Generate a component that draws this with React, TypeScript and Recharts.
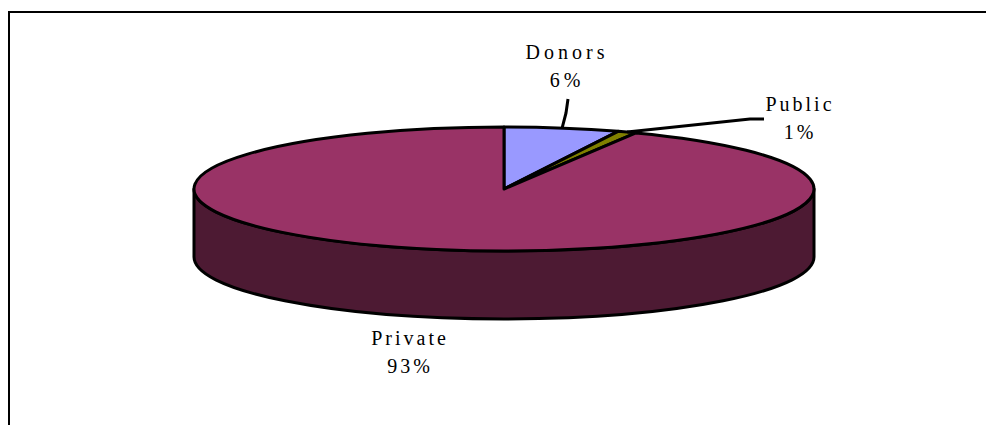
import { PieChart, Pie } from "recharts"

const sliceNames = ["Donors", "Public", "Private"]
const sliceValues = [6, 1, 93]
const sliceColors = ["#9999ff", "#808000", "#993366"]
const wallColor = "#4d1a33"

const data = sliceNames.map((name, i) => ({ name, value: sliceValues[i], fill: sliceColors[i] }))

const TILT = 0.2
const DEPTH = 68
const OUTLINE = 3
const RAD = Math.PI / 180

// where each two-line label sits, and the bend points of its leader
const labelLayout = [
  { x: 567, y: 59, spacing: 4, leader: [[566, 113], [568, 99]] },
  { x: 800, y: 111, spacing: 3, leader: [[750, 119], [764, 119]] },
  { x: 410, y: 345, spacing: 3, leader: [] as number[][] },
]

// squashes a point on the pie's circle into the tilted ellipse
function onRim(cx: number, cy: number, r: number, angle: number) {
  return {
    x: cx + r * Math.cos(angle * RAD),
    y: cy - r * TILT * Math.sin(angle * RAD),
  }
}

function TiltedSlice(props: any) {
  const { cx, cy, outerRadius: r, startAngle, endAngle, fill } = props
  const ry = r * TILT
  const a = onRim(cx, cy, r, startAngle)
  const b = onRim(cx, cy, r, endAngle)
  const large = Math.abs(startAngle - endAngle) > 180 ? 1 : 0
  const top = `M${cx},${cy} L${a.x},${a.y} A${r},${ry} 0 ${large} 1 ${b.x},${b.y} Z`
  // only a slice running across the front of the pie shows a side wall
  const hasWall = startAngle >= 0 && endAngle <= -180
  return (
    <g>
      {hasWall && (
        <path
          d={`M${cx - r},${cy} L${cx - r},${cy + DEPTH} A${r},${ry} 0 0 0 ${cx + r},${cy + DEPTH} L${cx + r},${cy} A${r},${ry} 0 0 1 ${cx - r},${cy} Z`}
          fill={wallColor}
          stroke="#000"
          strokeWidth={OUTLINE}
          strokeLinejoin="round"
        />
      )}
      <path d={top} fill={fill} stroke="#000" strokeWidth={OUTLINE} strokeLinejoin="round" />
    </g>
  )
}

function SliceLabel(props: any) {
  const { cx, cy, outerRadius, midAngle, index, name, value } = props
  const spot = labelLayout[index]
  const rim = onRim(cx, cy, outerRadius, midAngle)
  const points = [[rim.x, rim.y], ...spot.leader].map((p) => p.join(",")).join(" ")
  const textStyle = { fontFamily: "Liberation Serif", fontSize: 20, letterSpacing: spot.spacing }
  return (
    <g>
      {spot.leader.length > 0 && (
        <polyline points={points} fill="none" stroke="#000" strokeWidth={OUTLINE} strokeLinejoin="round" />
      )}
      <text x={spot.x} y={spot.y} textAnchor="middle" fill="#000" style={textStyle}>
        {name}
      </text>
      <text x={spot.x} y={spot.y + 28} textAnchor="middle" fill="#000" style={textStyle}>
        {value}%
      </text>
    </g>
  )
}

export default function App() {
  return (
    <div style={{ position: "absolute", left: 0, top: 0, width: 986, height: 425, overflow: "hidden", background: "#fff" }}>
      <div
        style={{
          position: "absolute",
          left: 8,
          top: 11,
          width: 978,
          height: 414,
          boxSizing: "border-box",
          borderLeft: "2px solid #000",
          borderTop: "2px solid #000",
        }}
      />
      <div style={{ position: "absolute", left: 0, top: 0 }}>
        <PieChart width={986} height={425} margin={{ top: 0, right: 0, bottom: 0, left: 0 }}>
          <Pie
            data={data}
            dataKey="value"
            nameKey="name"
            cx={504}
            cy={189}
            outerRadius={310}
            startAngle={90}
            endAngle={-270}
            isAnimationActive={false}
            shape={TiltedSlice}
            label={SliceLabel}
            labelLine={false}
          />
        </PieChart>
      </div>
    </div>
  )
}
